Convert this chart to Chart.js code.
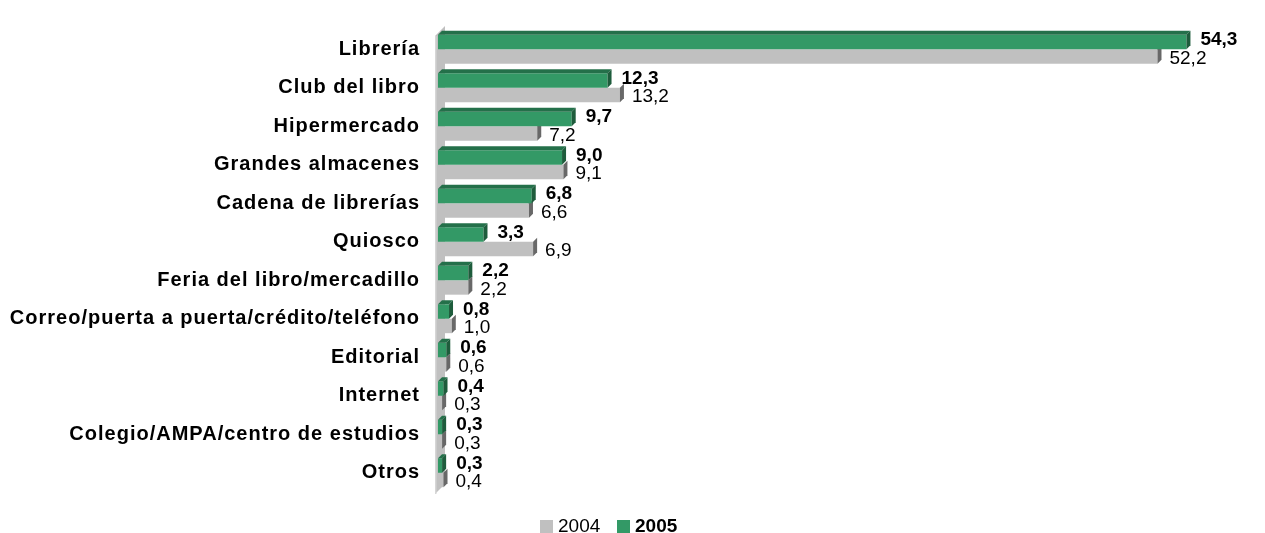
<!DOCTYPE html>
<html>
<head>
<meta charset="utf-8">
<script src="https://cdn.jsdelivr.net/npm/chart.js@4.4.1/dist/chart.umd.min.js"></script>
<style>
  html, body { margin: 0; padding: 0; background: #fff; }
  #wrap { width: 1265px; height: 533px; position: relative; }
</style>
</head>
<body>
<div id="wrap"><canvas id="grafico"></canvas></div>
<script>
const categorias = ['Librería', 'Club del libro', 'Hipermercado', 'Grandes almacenes', 'Cadena de librerías',
  'Quiosco', 'Feria del libro/mercadillo', 'Correo/puerta a puerta/crédito/teléfono', 'Editorial',
  'Internet', 'Colegio/AMPA/centro de estudios', 'Otros'];
const valores2005 = [54.3, 12.3, 9.7, 9.0, 6.8, 3.3, 2.2, 0.8, 0.6, 0.4, 0.3, 0.3];
const valores2004 = [52.2, 13.2, 7.2, 9.1, 6.6, 6.9, 2.2, 1.0, 0.6, 0.3, 0.3, 0.4];
const series = ['2005', '2004'];

const FONT = '"Liberation Sans", Arial, sans-serif';
const D = 4; // profundidad 3D

// colores: cara, tapa superior, extremo
const colores = {
  '2005': { cara: '#339966', tapa: '#24704a', lado: '#1e5c3c' },
  '2004': { cara: '#c0c0c0', tapa: '#a8a8a8', lado: '#686868' }
};

function fmt(v) {
  return v.toFixed(1).replace('.', ',');
}

// pared, efecto 3D, etiquetas y leyenda
const efecto3d = {
  id: 'efecto3d',
  beforeDraw(chart) {
    chart.ctx.letterSpacing = '1px';
  },
  beforeDatasetsDraw(chart) {
    const ctx = chart.ctx;
    const a = chart.chartArea;
    const L = a.left;
    ctx.save();
    ctx.letterSpacing = '0px';
    ctx.fillStyle = '#c0c0c0';
    ctx.beginPath();
    ctx.moveTo(L - 3, a.top + 6);
    ctx.lineTo(L + 7, a.top - 4);
    ctx.lineTo(L + 7, a.bottom - 8);
    ctx.lineTo(L - 3, a.bottom + 2);
    ctx.closePath();
    ctx.fill();
    ctx.fillStyle = '#d6d6d6';
    ctx.fillRect(L - 3, a.top + 6, 1.5, a.bottom - a.top - 4);
    ctx.restore();
  },
  afterDatasetDraw(chart, args) {
    const ctx = chart.ctx;
    const ds = chart.data.datasets[args.index];
    const c = colores[ds.label];
    const meta = args.meta;
    ctx.save();
    meta.data.forEach(function (bar) {
      const top = bar.y - bar.height / 2;
      const bot = bar.y + bar.height / 2;
      const x = bar.x, b = bar.base;
      if (ds.label === '2005') {
        ctx.fillStyle = c.tapa;
        ctx.beginPath();
        ctx.moveTo(b, top);
        ctx.lineTo(x, top);
        ctx.lineTo(x + D, top - D);
        ctx.lineTo(b + D, top - D);
        ctx.closePath();
        ctx.fill();
      }
      ctx.fillStyle = c.lado;
      ctx.beginPath();
      ctx.moveTo(x, top);
      ctx.lineTo(x + D, top - D);
      ctx.lineTo(x + D, bot - D);
      ctx.lineTo(x, bot);
      ctx.closePath();
      ctx.fill();
    });
    ctx.restore();
  },
  afterDraw(chart) {
    const ctx = chart.ctx;
    ctx.save();
    ctx.letterSpacing = '0px';
    ctx.fillStyle = '#000';
    ctx.textBaseline = 'middle';
    ctx.textAlign = 'left';
    // etiquetas de datos
    chart.data.datasets.forEach(function (ds, i) {
      const meta = chart.getDatasetMeta(i);
      const negrita = ds.label === '2005';
      ctx.font = (negrita ? 'bold ' : '') + '19px ' + FONT;
      meta.data.forEach(function (bar, j) {
        const x = bar.x + D + (negrita ? 10 : 8);
        const y = bar.y + (negrita ? -2 : 2);
        ctx.fillText(fmt(ds.data[j]), x, y);
      });
    });
    // leyenda
    const ly = 526;
    let lx = 540;
    ctx.fillStyle = colores['2004'].cara;
    ctx.fillRect(lx, ly - 6, 13, 13);
    ctx.fillStyle = '#000';
    ctx.font = '19px ' + FONT;
    ctx.fillText('2004', lx + 18, ly + 1);
    lx = 617;
    ctx.fillStyle = colores['2005'].cara;
    ctx.fillRect(lx, ly - 6, 13, 13);
    ctx.fillStyle = '#000';
    ctx.font = 'bold 19px ' + FONT;
    ctx.fillText('2005', lx + 18, ly + 1);
    ctx.restore();
  }
};

const ctx = document.getElementById('grafico');
new Chart(ctx, {
  type: 'bar',
  data: {
    labels: categorias,
    datasets: [
      {
        label: series[0],
        data: valores2005,
        backgroundColor: colores['2005'].cara,
        categoryPercentage: 0.75,
        barPercentage: 1.0
      },
      {
        label: series[1],
        data: valores2004,
        backgroundColor: colores['2004'].cara,
        categoryPercentage: 0.75,
        barPercentage: 1.0
      }
    ]
  },
  options: {
    indexAxis: 'y',
    responsive: true,
    maintainAspectRatio: false,
    animation: false,
    layout: { padding: { top: 12, bottom: 41, left: 0, right: 0 } },
    scales: {
      x: {
        display: false,
        min: 0,
        max: 60
      },
      y: {
        grid: { display: false, drawTicks: false },
        border: { display: false },
        ticks: {
          color: '#000',
          padding: 18,
          font: { family: FONT, size: 20, weight: 'bold' }
        },
        afterFit(scale) {
          scale.width = 438;
        }
      }
    },
    plugins: {
      legend: { display: false },
      tooltip: { enabled: false }
    }
  },
  plugins: [efecto3d]
});
</script>
</body>
</html>
